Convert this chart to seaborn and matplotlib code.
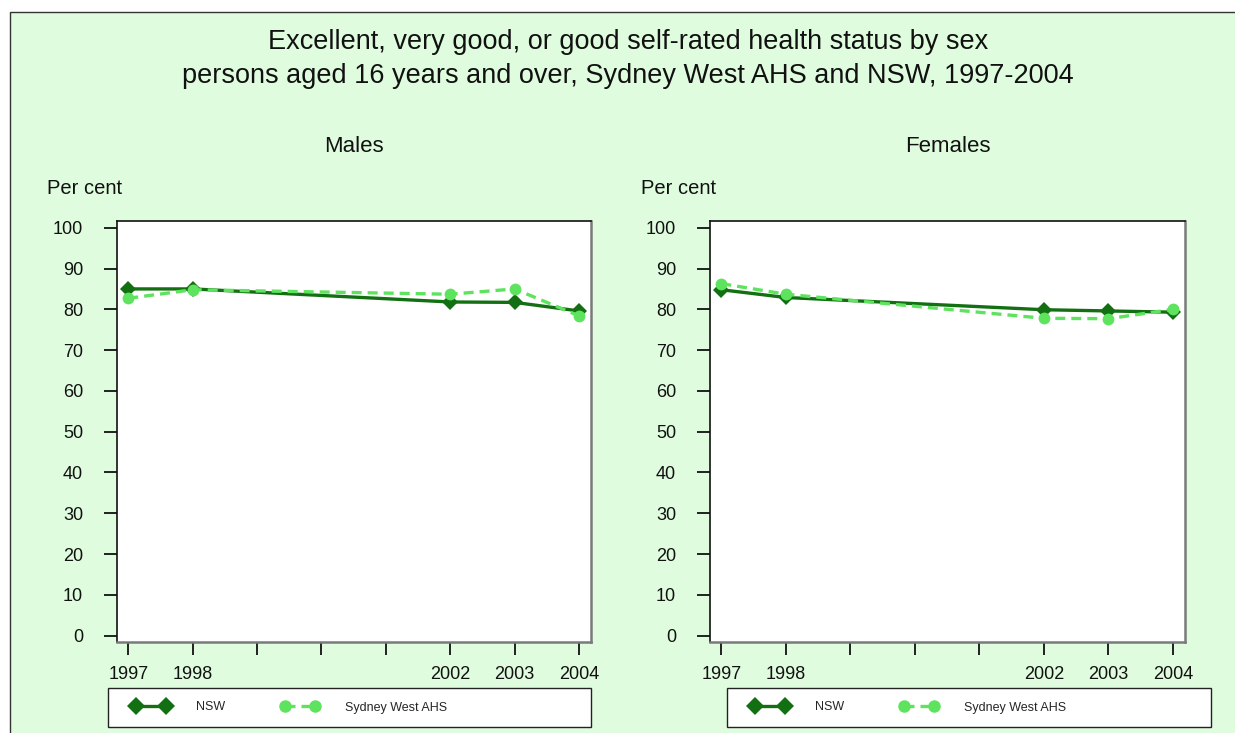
import matplotlib
matplotlib.use("Agg")
import matplotlib.pyplot as plt
from matplotlib.patches import Rectangle
from matplotlib.lines import Line2D
import seaborn as sns
import pandas as pd

# ---- data ----
years = [1997, 1998, 2002, 2003, 2004]
males_nsw = [85.0, 85.0, 81.8, 81.7, 79.6]
males_swahs = [82.7, 84.8, 83.7, 85.0, 78.4]
females_nsw = [84.8, 82.9, 79.9, 79.6, 79.3]
females_swahs = [86.3, 83.7, 77.8, 77.7, 80.0]
series_names = ["NSW", "Sydney West AHS"]
panel_titles = ["Males", "Females"]
tick_years = [1997, 1998, 1999, 2000, 2001, 2002, 2003, 2004]
tick_labels = ["1997", "1998", "", "", "", "2002", "2003", "2004"]
y_ticks = list(range(0, 101, 10))
title_lines = ["Excellent, very good, or good self-rated health status by sex",
               "persons aged 16 years and over, Sydney West AHS and NSW, 1997-2004"]

# ---- style ----
sns.set_style("white")
plt.rcParams["font.family"] = ["Liberation Sans", "DejaVu Sans"]

W, H = 1235, 733
DPI = 100
BG = "#E0FCDF"
C_NSW = "#127012"
C_SW = "#5EE35E"

def fx(px):
    return px / W

def fy(py):
    return 1 - py / H

fig = plt.figure(figsize=(W / DPI, H / DPI), dpi=DPI)
fig.patch.set_facecolor("white")
fig.patches.append(Rectangle((fx(10), -0.2), 1.2, fy(12) + 0.2, transform=fig.transFigure,
                             facecolor=BG, edgecolor="#333333", linewidth=1.0, zorder=-10))

for t, yp in zip(title_lines, [42, 76]):
    fig.text(fx(628), fy(yp), t, ha="center", va="center", fontsize=19.5, color="#111111")

panels = [
    dict(title=panel_titles[0], nsw=males_nsw, sw=males_swahs, left=117, right=591,
         ylab_x=47, leg_box=(108, 591), leg_x=132),
    dict(title=panel_titles[1], nsw=females_nsw, sw=females_swahs, left=710, right=1185,
         ylab_x=641, leg_box=(727, 1211), leg_x=751),
]

top, bottom = 221, 642
palette = {series_names[0]: C_NSW, series_names[1]: C_SW}
markers = {series_names[0]: "D", series_names[1]: "o"}
dashes = {series_names[0]: "", series_names[1]: (3, 1.8)}

for p in panels:
    ax = fig.add_axes([fx(p["left"]), fy(bottom), (p["right"] - p["left"]) / W, (bottom - top) / H])
    ax.set_facecolor("white")
    df = pd.DataFrame({
        "year": years * 2,
        "value": p["nsw"] + p["sw"],
        "series": [series_names[0]] * len(years) + [series_names[1]] * len(years),
    })
    sns.lineplot(data=df, x="year", y="value", hue="series", style="series",
                 palette=palette, markers=markers, dashes=dashes, ax=ax,
                 legend=False, linewidth=2.4, markersize=8.5, markeredgewidth=0,
                 estimator=None, sort=False)
    ax.set_xlim(1996.825, 2004.186)
    ax.set_ylim(-1.55, 101.65)
    ax.set_xticks(tick_years)
    ax.set_xticklabels(tick_labels)
    ax.set_yticks(y_ticks)
    ax.set_xlabel("")
    ax.set_ylabel("")
    ax.tick_params(axis="x", direction="out", length=9.5, width=1.3, pad=8,
                   labelsize=13, colors="#111111", bottom=True)
    ax.tick_params(axis="y", direction="out", length=9.5, width=1.3, pad=15,
                   labelsize=13, colors="#111111", left=True)
    for s in ["top", "left"]:
        ax.spines[s].set_color("#111111")
        ax.spines[s].set_linewidth(1.2)
    for s in ["right", "bottom"]:
        ax.spines[s].set_color("#7a7a7a")
        ax.spines[s].set_linewidth(1.8)
    cx = (p["left"] + p["right"]) / 2
    fig.text(fx(cx), fy(147), p["title"], ha="center", va="center", fontsize=16, color="#111111")
    fig.text(fx(p["ylab_x"]), fy(188), "Per cent", ha="left", va="center", fontsize=14.5,
             color="#111111")

    # legend box
    lx0, lx1 = p["leg_box"]
    fig.patches.append(Rectangle((fx(lx0), fy(727)), (lx1 - lx0) / W, (727 - 688) / H,
                                 transform=fig.transFigure, facecolor="white",
                                 edgecolor="#222222", linewidth=1.0, zorder=1))
    handles = [
        Line2D([], [], color=C_NSW, marker="D", markersize=9, markeredgewidth=0, linewidth=2.4),
        Line2D([], [], color=C_SW, marker="o", markersize=9, markeredgewidth=0, linewidth=2.4,
               dashes=(3, 1.8)),
    ]
    fig.legend(handles, series_names, loc="center left",
               bbox_to_anchor=(fx(p["leg_x"]), fy(707.5)), ncol=2, frameon=False,
               fontsize=9, handlelength=3.0, handletextpad=2.1, columnspacing=4.5,
               borderpad=0, borderaxespad=0, numpoints=2)

fig.savefig("out.png", dpi=DPI, facecolor=fig.get_facecolor())
